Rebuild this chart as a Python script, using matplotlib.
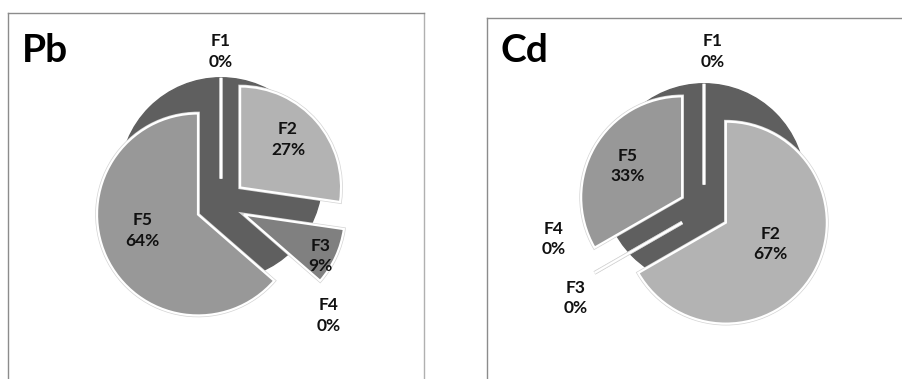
import numpy as np
import matplotlib.pyplot as plt
import matplotlib.patheffects as pe

# Fraction shares (%) for each metal
fractions = ["F1", "F2", "F3", "F4", "F5"]
pb_share = [0, 27.3, 9.1, 0, 63.6]
cd_share = [0, 66.7, 0, 0, 33.3]
pb_pct = ["0%", "27%", "9%", "0%", "64%"]
cd_pct = ["0%", "67%", "0%", "0%", "33%"]

slice_colors = ["#5f5f5f", "#b3b3b3", "#808080", "#8a8a8a", "#989898"]
dark = "#5f5f5f"
explode = 0.25
px = 101.0  # pixels per unit radius

# label placement: (angle shift from slice middle in degrees, distance in radii)
pb_label_pos = [(0, 1.51), (-3, 0.92), (3, 1.11), (5, 1.53), (6, 0.82)]
cd_label_pos = [(3, 1.57), (-3, 0.74), (-4.5, 1.54), (19, 1.52), (0, 0.87)]

plt.rcParams['font.family'] = ['Lato', 'DejaVu Sans']

W, H = 903, 379
fig = plt.figure(figsize=(W / 100, H / 100), dpi=100)


def make_panel(box, center, values, pct, label_pos, title, hidden=()):
    x0, x1, ytop = box
    cx, cy = center
    ax = fig.add_axes([x0 / W, -5 / H, (x1 - x0) / W, (ytop + 5) / H])

    # dark full disk sitting under the exploded F1 slice
    ax.add_patch(plt.Circle((0, explode), 1.0, color=dark, zorder=0))

    wedges, _ = ax.pie(values, startangle=90, counterclock=False,
                       explode=[explode] * len(values), colors=slice_colors,
                       wedgeprops=dict(edgecolor="white", linewidth=1.6),
                       radius=1.0, frame=True)
    for i, w in enumerate(wedges):
        if i in hidden:
            w.set_visible(False)
            continue
        w.set_path_effects([pe.Stroke(linewidth=2.6, foreground="#d4d4d4"),
                            pe.Normal()])
    ax.set_xlim((x0 - cx) / px, (x1 - cx) / px)
    ax.set_ylim((-5 - cy) / px, (ytop - cy) / px)
    ax.set_aspect('auto')
    ax.set_xticks([])
    ax.set_yticks([])
    for s in ax.spines.values():
        s.set_color("#8c8c8c")
        s.set_linewidth(1.0)
    ax.spines['bottom'].set_visible(False)
    ax.spines['right'].set_color("#b0b0b0")

    total = sum(values)
    start = 0.0
    for name, v, p, (shift, r) in zip(fractions, values, pct, label_pos):
        mid = start + v / total * 360 / 2
        start += v / total * 360
        ang = np.deg2rad(90 - mid - shift)
        ax.text(r * np.cos(ang), r * np.sin(ang), name + "\n" + p,
                ha="center", va="center", fontsize=12.5, fontweight="bold",
                linespacing=1.35, color="#111111")

    ax.text(14 / (x1 - x0), 1 - (62 - (H - ytop)) / (ytop + 5),
            title, transform=ax.transAxes, fontsize=28, fontweight="bold",
            ha="left", va="baseline", color="black")
    return ax


make_panel((8, 424, H - 13), (221, H - 204), pb_share, pb_pct, pb_label_pos,
           "Pb", hidden=(3,))
make_panel((487, 912, H - 18), (704, H - 210), cd_share, cd_pct, cd_label_pos, "Cd")

fig.savefig("out.png", dpi=100)
